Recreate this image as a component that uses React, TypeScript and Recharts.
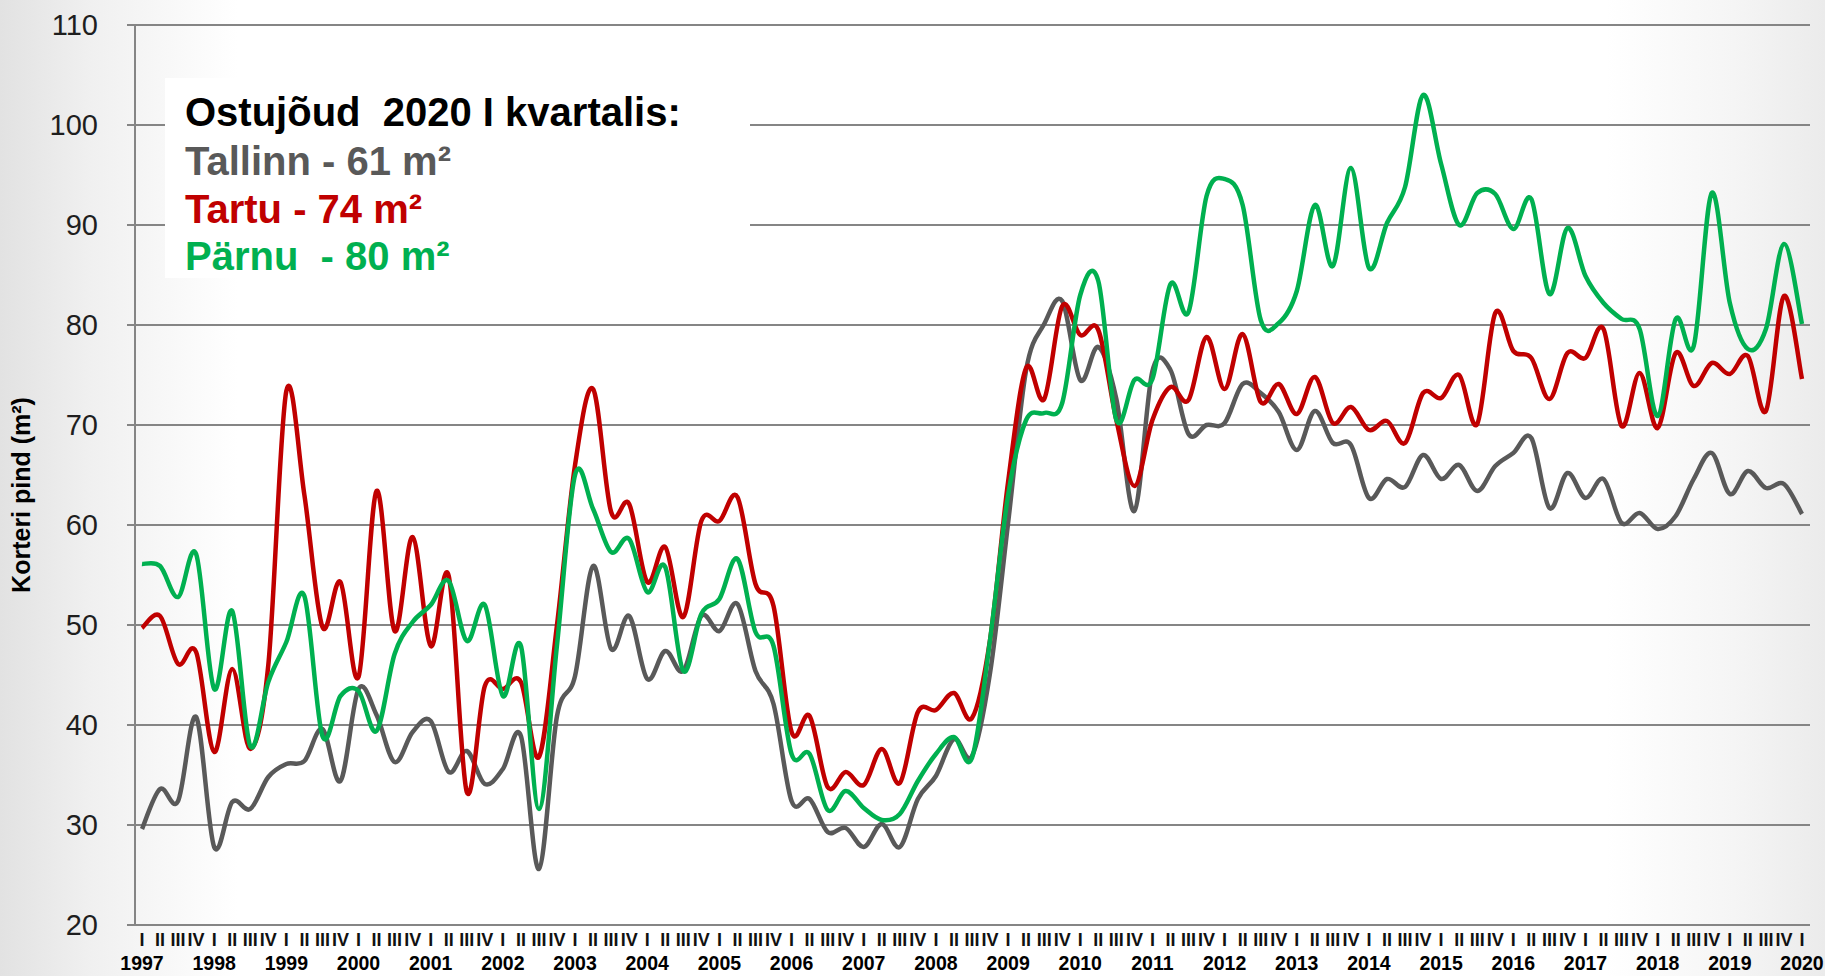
import React from 'react';
import { LineChart, Line, XAxis, YAxis, CartesianGrid } from 'recharts';

// Apartment size affordable with a quarterly wage (m²), Tallinn / Tartu / Pärnu, 1997 Q1 – 2020 Q1

const years = [
  '1997', '1998', '1999', '2000', '2001', '2002', '2003', '2004', '2005', '2006', '2007', '2008',
  '2009', '2010', '2011', '2012', '2013', '2014', '2015', '2016', '2017', '2018', '2019', '2020',
];
const quarterLabels = ['I', 'II', 'III', 'IV'];
const yTicks = [20, 30, 40, 50, 60, 70, 80, 90, 100, 110];

const tallinn = [
  29.6, 33.6, 32.4, 40.8, 27.8, 32.3, 31.6, 34.8, 36.1, 36.4, 39.6, 34.4,
  43.6, 41.0, 36.3, 39.3, 40.4, 35.3, 37.4, 34.1, 35.6, 38.9, 25.6, 40.9,
  44.9, 55.9, 47.6, 50.9, 44.6, 47.4, 45.4, 50.9, 49.4, 52.1, 45.4, 42.1,
  32.4, 32.6, 29.3, 29.7, 27.8, 30.1, 27.8, 32.6, 34.9, 38.6, 36.9, 45.2,
  60.2, 75.5, 80.1, 82.4, 74.5, 77.8, 72.6, 61.4, 75.4, 75.5, 69.1, 70.0,
  70.2, 74.1, 73.2, 71.3, 67.5, 71.4, 68.2, 68.0, 62.7, 64.6, 63.8, 67.0,
  64.6, 66.0, 63.4, 65.9, 67.2, 68.7, 61.7, 65.2, 62.7, 64.6, 60.2, 61.2,
  59.6, 60.9, 64.6, 67.2, 63.1, 65.4, 63.7, 64.1, 61.1,
];

const tartu = [
  49.7, 50.9, 46.1, 47.3, 37.3, 45.6, 37.6, 46.0, 73.4, 63.0, 49.8, 54.3,
  44.8, 63.4, 49.4, 58.8, 47.9, 54.9, 33.3, 43.9, 43.6, 44.3, 36.8, 50.0,
  66.0, 73.6, 61.3, 62.1, 54.3, 57.8, 50.8, 60.4, 60.4, 62.8, 54.1, 51.9,
  39.3, 40.9, 33.8, 35.3, 34.0, 37.6, 34.2, 41.3, 41.5, 43.2, 40.7, 48.5,
  64.3, 75.7, 72.6, 81.9, 79.0, 79.5, 70.5, 63.9, 70.5, 73.8, 72.5, 78.8,
  73.6, 79.1, 72.3, 74.1, 71.1, 74.8, 70.2, 71.8, 69.5, 70.4, 68.2, 73.2,
  72.7, 75.0, 70.1, 81.2, 77.4, 76.7, 72.6, 77.2, 76.7, 79.6, 69.9, 75.2,
  69.7, 77.2, 73.9, 76.2, 75.1, 76.9, 71.4, 82.9, 74.6,
];

const parnu = [
  56.1, 55.9, 52.8, 57.1, 43.6, 51.4, 37.9, 44.3, 48.3, 52.9, 38.9, 42.9,
  43.4, 39.4, 47.1, 50.3, 52.0, 54.4, 48.4, 52.0, 42.9, 47.9, 31.6, 48.0,
  65.0, 61.6, 57.3, 58.6, 53.3, 55.8, 45.4, 51.1, 52.6, 56.6, 49.3, 47.9,
  37.1, 37.1, 31.5, 33.4, 31.7, 30.5, 31.1, 34.4, 37.1, 38.8, 36.7, 48.5,
  63.0, 70.5, 71.2, 72.2, 83.0, 84.4, 70.5, 74.5, 74.6, 84.1, 81.3, 92.9,
  94.6, 92.0, 80.5, 80.2, 83.4, 92.0, 85.9, 95.7, 85.7, 90.2, 93.8, 103.0,
  96.1, 90.0, 93.2, 93.1, 89.6, 92.6, 83.1, 89.7, 84.9, 82.2, 80.6, 79.6,
  70.9, 80.6, 77.9, 93.2, 82.2, 77.6, 79.6, 88.1, 80.1,
];

const data = tallinn.map((v, i) => ({
  key: `${years[Math.floor(i / 4)]}-${quarterLabels[i % 4]}`,
  tallinn: v,
  tartu: tartu[i],
  parnu: parnu[i],
}));

const FONT = "'Liberation Sans', Arial, sans-serif";
const GRID = '#858585';

// Excel-like smoothed line (Catmull-Rom through every point)
function excelCurve(context: any) {
  let pts: [number, number][] = [];
  return {
    areaStart() {},
    areaEnd() {},
    lineStart() {
      pts = [];
    },
    lineEnd() {
      if (!pts.length) return;
      context.moveTo(pts[0][0], pts[0][1]);
      for (let k = 0; k < pts.length - 1; k++) {
        const p0 = pts[k - 1] || pts[k];
        const p1 = pts[k];
        const p2 = pts[k + 1];
        const p3 = pts[k + 2] || p2;
        context.bezierCurveTo(
          p1[0] + (p2[0] - p0[0]) / 6,
          p1[1] + (p2[1] - p0[1]) / 6,
          p2[0] - (p3[0] - p1[0]) / 6,
          p2[1] - (p3[1] - p1[1]) / 6,
          p2[0],
          p2[1],
        );
      }
    },
    point(x: number, y: number) {
      pts.push([x, y]);
    },
  };
}

function QuarterTick({ x, y, payload }: any) {
  const [yr, q] = String(payload.value).split('-');
  return (
    <g>
      <text x={x} y={y + 21} textAnchor="middle" fontSize={18} fontWeight="bold" fill="#111" fontFamily={FONT}>
        {q}
      </text>
      {q === 'I' && (
        <text x={x} y={y + 45} textAnchor="middle" fontSize={19.5} fontWeight="bold" fill="#000" fontFamily={FONT}>
          {yr}
        </text>
      )}
    </g>
  );
}

export default function App() {
  return (
    <div
      style={{
        position: 'absolute',
        left: 0,
        top: 0,
        width: 1825,
        height: 976,
        overflow: 'hidden',
        background:
          'linear-gradient(90deg, #e2e2e2 0%, #f0f0f0 5%, #ffffff 13%, #ffffff 88%, #f5f5f5 95%, #ebebeb 100%)',
        fontFamily: FONT,
      }}
    >
      <LineChart width={1825} height={976} data={data} margin={{ top: 25, right: 15, left: 0, bottom: 0 }}>
        <CartesianGrid vertical={false} stroke={GRID} strokeWidth={2} />
        <XAxis
          dataKey="key"
          interval={0}
          height={51}
          padding={{ left: 7, right: 8 }}
          axisLine={{ stroke: GRID, strokeWidth: 2 }}
          tickLine={false}
          tickSize={0}
          tickMargin={0}
          tick={<QuarterTick />}
        />
        <YAxis
          width={135}
          domain={[20, 110]}
          ticks={yTicks}
          interval={0}
          axisLine={{ stroke: GRID, strokeWidth: 2 }}
          tickLine={{ stroke: GRID, strokeWidth: 2 }}
          tickSize={8}
          tickMargin={29}
          tick={{ fontSize: 29, fill: '#1e1e1e', fontFamily: FONT }}
        />
        <Line dataKey="tallinn" type={excelCurve as any} stroke="#595959" strokeWidth={4.5} dot={false} isAnimationActive={false} />
        <Line dataKey="tartu" type={excelCurve as any} stroke="#c00000" strokeWidth={4.5} dot={false} isAnimationActive={false} />
        <Line dataKey="parnu" type={excelCurve as any} stroke="#00b050" strokeWidth={4.5} dot={false} isAnimationActive={false} />
      </LineChart>

      <svg width={1825} height={976} style={{ position: 'absolute', left: 0, top: 0, pointerEvents: 'none' }}>
        <rect x={165} y={78} width={585} height={200} fill="#ffffff" />
        <g fontFamily={FONT} fontWeight="bold" fontSize={40}>
          <text x={185} y={126} fill="#000000">{'Ostujõud\u00a0 2020 I kvartalis:'}</text>
          <text x={185} y={175} fill="#595959">Tallinn - 61 m²</text>
          <text x={185} y={223} fill="#c00000">Tartu - 74 m²</text>
          <text x={185} y={270} fill="#00b050">{'Pärnu\u00a0 - 80 m²'}</text>
        </g>
        <text
          x={21}
          y={495}
          transform="rotate(-90, 21, 495)"
          textAnchor="middle"
          dominantBaseline="central"
          fontFamily={FONT}
          fontWeight="bold"
          fontSize={25}
          fill="#000000"
        >
          Korteri pind (m²)
        </text>
      </svg>
    </div>
  );
}
